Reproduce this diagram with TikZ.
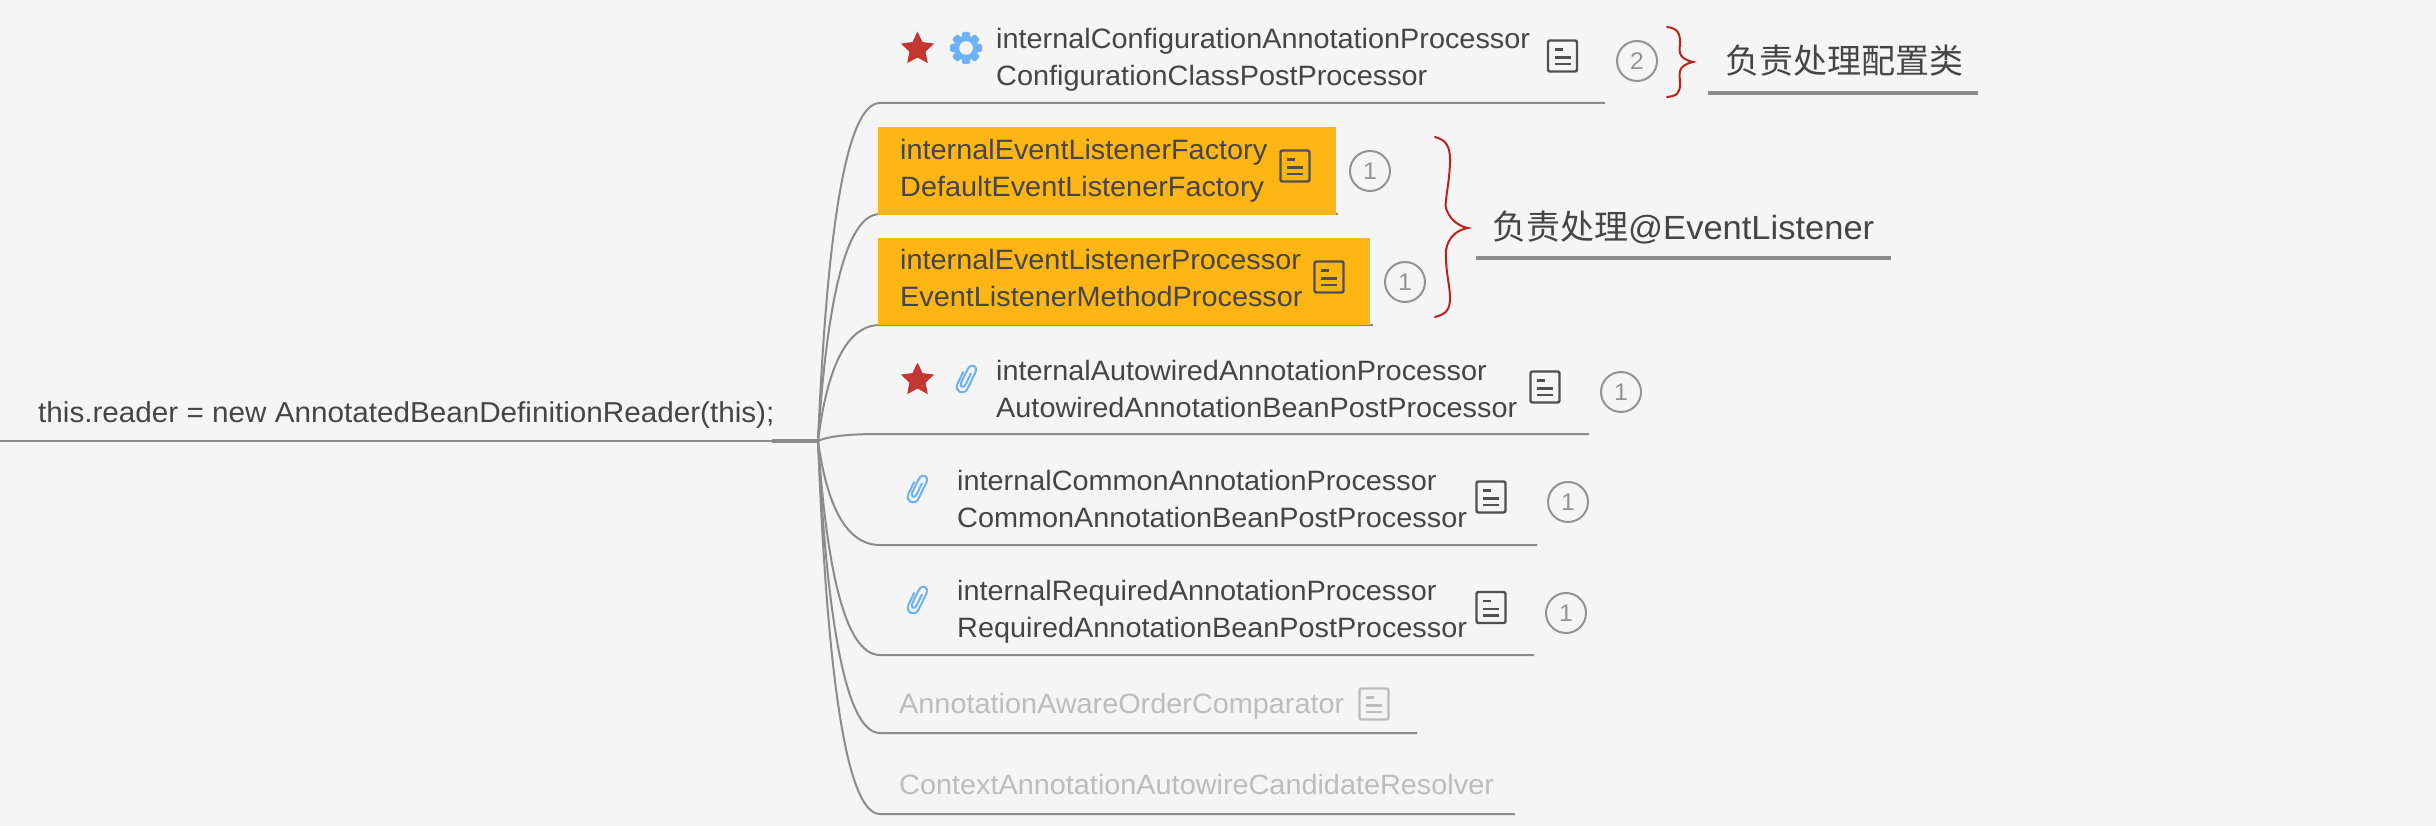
\documentclass[tikz,border=0pt]{standalone}
\usepackage{fontspec}
\setmainfont[FakeStretch=1.03]{Liberation Sans}
\newfontfamily\cjk{Noto Sans CJK SC}
\usetikzlibrary{shapes.geometric}
\definecolor{bgc}{HTML}{F5F5F5}
\definecolor{linec}{HTML}{8C8C8C}
\definecolor{txtc}{HTML}{454545}
\definecolor{iconc}{HTML}{505050}
\definecolor{paleTxt}{HTML}{BDBDBD}
\definecolor{boxc}{HTML}{FDB614}
\definecolor{starc}{HTML}{C43632}
\definecolor{bluec}{HTML}{6FB1F7}
\definecolor{bracec}{HTML}{C21F1F}
\definecolor{numc}{HTML}{939393}
\tikzset{
 x=1pt,y=-1pt,
 branch/.style={draw=linec,line width=2pt},
 lbl/.style={anchor=base west,inner sep=0pt,text=txtc,font=\fontsize{28}{37}\selectfont,align=left},
 palelbl/.style={lbl,text=paleTxt},
 numnode/.style={circle,draw=numc,line width=2pt,minimum size=40pt,inner sep=0pt,text=numc,font=\fontsize{24}{30}\selectfont},
 starnode/.style={star,star points=5,star point ratio=2.05,fill=starc,minimum size=35pt,inner sep=0pt},
 bracep/.style={draw=bracec,line width=2pt,line cap=round},
 underl/.style={draw=linec,line width=4.5pt},
 cjklbl/.style={anchor=base west,inner sep=0pt,text=txtc,font=\fontsize{34}{40}\selectfont},
 note/.pic={
   \draw[draw=#1,line width=2.4pt,rounded corners=2pt] (-14.5,-15.5) rectangle (14.5,15.5);
   \draw[draw=#1,line width=2.4pt] (-8,-6.5) -- (0,-6.5) (-8,1.5) -- (8,1.5) (-8,8) -- (8,8);
 },
 clipicon/.pic={
   \draw[bluec,line width=2pt,line cap=round,rotate=-26]
     (-5.6,-5) -- (-5.6,8) .. controls (-5.6,16.5) and (5.6,16.5) .. (5.6,8) -- (5.6,-9)
     .. controls (5.6,-17.5) and (-2.8,-17.5) .. (-2.8,-9) -- (-2.8,5)
     .. controls (-2.8,10) and (2,10) .. (2,5) -- (2,-7);
 },
 gear/.pic={
   \foreach \a in {0,45,...,315}{\fill[bluec,rotate=\a,rounded corners=1.5pt] (-4,-16) rectangle (4,-9);}
   \fill[bluec] (0,0) circle (12.5);
   \fill[bgc] (0,0) circle (6.8);
 },
}
\begin{document}
\begin{tikzpicture}
\useasboundingbox (0,0) rectangle (2436,826);
\fill[bgc] (0,0) rectangle (2436,826);
\coordinate (rootL) at (0,441);
\coordinate (rootM) at (772,441);
\coordinate (hub) at (818,441);
\coordinate (e1s) at (880,103); \coordinate (e1) at (1605,103);
\coordinate (e2s) at (880,214); \coordinate (e2) at (1338,214);
\coordinate (e3s) at (880,325); \coordinate (e3) at (1373,325);
\coordinate (e4s) at (880,434); \coordinate (e4) at (1589,434);
\coordinate (e5s) at (880,545); \coordinate (e5) at (1537,545);
\coordinate (e6s) at (880,655); \coordinate (e6) at (1534,655);
\coordinate (e7s) at (880,733); \coordinate (e7) at (1417,733);
\coordinate (e8s) at (880,814); \coordinate (e8) at (1515,814);
\draw[branch] (rootL) -- (rootM);
\draw[branch,line width=3.4pt] (rootM) -- (hub);
\foreach \n/\yy in {1/103,2/214,3/325,4/434,5/545,6/655,7/733,8/814}{
  \pgfmathsetmacro{\ya}{441+0.55*(\yy-441)}
  \draw[branch] (hub) .. controls (826,\ya) and (843,\yy) .. (e\n s) -- (e\n);
}
% boxes
\node[fill=boxc,inner sep=0pt,minimum width=458pt,minimum height=88pt,anchor=north west] (box1) at (878,127) {};
\node[fill=boxc,inner sep=0pt,minimum width=492pt,minimum height=87pt,anchor=north west] (box2) at (878,238) {};
% root label
\node[lbl,font=\fontsize{28.8}{37}\selectfont] (root) at (38,422) {this.reader = new AnnotatedBeanDefinitionReader(this);};
% labels
\node[lbl] (t1) at (996,86) {internalConfigurationAnnotationProcessor\\ConfigurationClassPostProcessor};
\node[lbl] (t2) at (900,197) {internalEventListenerFactory\\DefaultEventListenerFactory};
\node[lbl] (t3) at (900,307) {internalEventListenerProcessor\\EventListenerMethodProcessor};
\node[lbl] (t4) at (996,417) {internalAutowiredAnnotationProcessor\\AutowiredAnnotationBeanPostProcessor};
\node[lbl] (t5) at (957,527) {internalCommonAnnotationProcessor\\CommonAnnotationBeanPostProcessor};
\node[lbl] (t6) at (957,637) {internalRequiredAnnotationProcessor\\RequiredAnnotationBeanPostProcessor};
\node[palelbl] (t7) at (899,713) {AnnotationAwareOrderComparator};
\node[palelbl] (t8) at (899,794) {ContextAnnotationAutowireCandidateResolver};
% icons
\node[starnode] (s1) at (917.5,49) {};
\node[starnode] (s2) at (917.5,380) {};
\pic at (966,48) {gear};
\pic at (966,379) {clipicon};
\pic at (917,489) {clipicon};
\pic at (917,600) {clipicon};
\pic at (1562.5,56) {note=iconc};
\pic at (1295,166) {note=iconc};
\pic at (1329,277) {note=iconc};
\pic at (1545,387) {note=iconc};
\pic at (1491,497) {note=iconc};
\pic at (1491,607.5) {note=iconc};
\pic at (1374,704) {note=paleTxt};
% counts
\node[numnode] (n1) at (1637,61) {2};
\node[numnode] (n2) at (1370,171) {1};
\node[numnode] (n3) at (1405,282) {1};
\node[numnode] (n4) at (1621,392) {1};
\node[numnode] (n5) at (1568,502) {1};
\node[numnode] (n6) at (1566,613) {1};
% braces
\draw[bracep] (1667,27) .. controls (1677,28) and (1680,33) .. (1680,42)
  .. controls (1680,50) and (1676,58) .. (1693,62)
  .. controls (1676,66) and (1680,74) .. (1680,84)
  .. controls (1680,93) and (1677,96) .. (1667,97);
\draw[bracep] (1435,137) .. controls (1446,140) and (1450,146) .. (1450,160)
  .. controls (1450,180) and (1444,205) .. (1446,208) .. controls (1448,216) and (1456,226) .. (1468,228)
  .. controls (1456,230) and (1448,238) .. (1446,250)
  .. controls (1445,270) and (1450,285) .. (1450,298)
  .. controls (1450,310) and (1446,314) .. (1435,317);
% notes
\node[cjklbl] (c1) at (1725,74) {\cjk 负责处理配置类};
\coordinate (u1a) at (1708,93); \coordinate (u1b) at (1978,93);
\draw[underl] (u1a) -- (u1b);
\node[cjklbl] (c2) at (1492,240) {\cjk 负责处理\normalfont\fontsize{33.5}{40}\selectfont @EventListener};
\coordinate (u2a) at (1476,258); \coordinate (u2b) at (1891,258);
\draw[underl] (u2a) -- (u2b);
\end{tikzpicture}
\end{document}
